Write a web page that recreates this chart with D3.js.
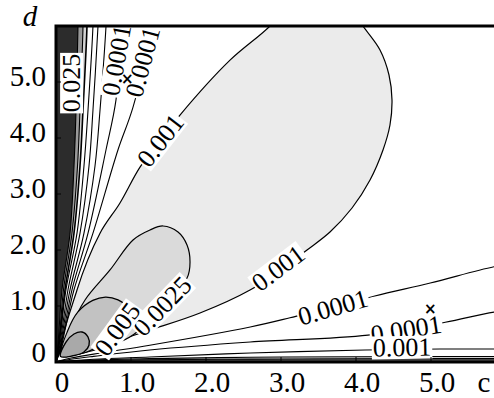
<!DOCTYPE html>
<html><head><meta charset="utf-8">
<script src="https://cdn.jsdelivr.net/npm/d3@7"></script>
<style>body{margin:0;background:#fff} text{font-family:"Liberation Serif","DejaVu Serif",serif;}</style>
</head><body><svg id="chart" width="494" height="398"></svg>
<script>
// ---------- data ----------
const xTickVals=[0,1,2,3,4,5];
const xTickLabels=["0","1.0","2.0","3.0","4.0","5.0"];
const yTickVals=[0,1,2,3,4,5];
const yTickLabels=["0","1.0","2.0","3.0","4.0","5.0"];
const xTitle="c", yTitle="d";

// contour lines, as [c, d] points
const leftEdge025=[[0.293,6.4],[0.293,6],[0.267,4.5],[0.24,3.5],[0.187,2.3],[0.08,1.29],[0.04,0.57],[0.02,0.21],[0.005,0.02]];
const leftEdge01=[[0.36,6.4],[0.36,6],[0.32,4.5],[0.287,3.5],[0.213,2.3],[0.1,1.29],[0.053,0.57],[0.024,0.21],[0.005,0.02]];
const leftLine005=[[0.413,6.4],[0.413,6],[0.36,4.5],[0.32,3.5],[0.24,2.3],[0.12,1.29],[0.06,0.57],[0.027,0.21],[0.005,0.02]];
const leftLine0025=[[0.5,6.4],[0.493,6],[0.427,4.5],[0.373,3.5],[0.28,2.3],[0.133,1.29],[0.067,0.57],[0.033,0.21],[0.005,0.02]];
const leftLine001=[[0.57,6.4],[0.56,6],[0.493,4.5],[0.44,3.5],[0.32,2.3],[0.16,1.29],[0.08,0.57],[0.04,0.21],[0.005,0.02]];
const leftLine0005=[[0.68,6.4],[0.667,6],[0.587,4.5],[0.52,3.5],[0.373,2.3],[0.187,1.29],[0.093,0.57],[0.047,0.21],[0.005,0.02]];
const left0001a=[[0.9,6.4],[0.88,6],[0.8,4.68],[0.667,3.79],[0.427,2.3],[0.213,1.29],[0.107,0.57],[0.053,0.21],[0.005,0.02]];
const left0001b=[[1.33,6.4],[1.28,6],[1.027,4.55],[0.827,3.79],[0.493,2.3],[0.24,1.29],[0.12,0.57],[0.06,0.21],[0.005,0.02]];

const bottom0001a=[[6.3,1.8],[5.84,1.7],[4.99,1.41],[4.25,1.18],[3.12,0.79],[2.59,0.625],[1.25,0.30],[0.59,0.16],[0.2,0.07],[0.01,0.01]];
const bottom0001b=[[6.3,0.95],[5.84,0.89],[5.19,0.71],[4.16,0.48],[2.59,0.357],[1.25,0.214],[0.5,0.1],[0.2,0.05],[0.01,0.01]];
const bottom001=[[6.3,0.232],[5.84,0.232],[5.12,0.232],[4.12,0.214],[2.59,0.16],[1.25,0.09],[0.5,0.05],[0.01,0.005]];
const bottom0025=[[6.3,0.1],[4.0,0.095],[2.59,0.085],[1.25,0.06],[0.5,0.035],[0.01,0.004]];
const bottomEdge01=[[6.3,0.06],[4.0,0.058],[2.59,0.052],[1.25,0.04],[0.5,0.025],[0.01,0.003]];

const lobe001=[[0.08,0.107],[0.28,1.286],[0.587,2.30],[0.853,2.84],[1.12,3.48],[1.387,3.95],[1.653,4.41],[2.32,5.39],[2.853,6.0],[3.1,6.4],[3.9,6.4],[4.093,6.0],[4.32,5.571],[4.44,5.125],[4.48,4.679],[4.453,4.232],[4.36,3.786],[4.187,3.25],[3.947,2.75],[3.653,2.321],[3.347,2.0],[2.987,1.643],[2.587,1.286],[1.92,0.875],[1.253,0.571],[0.72,0.339],[0.32,0.179]];
const lobe0025=[[0.093,0.143],[0.187,0.571],[0.387,1.107],[0.72,1.643],[1.027,2.179],[1.253,2.357],[1.427,2.429],[1.627,2.321],[1.747,2.089],[1.787,1.786],[1.747,1.5],[1.453,1.107],[1.08,0.536],[0.853,0.357],[0.52,0.214]];
const lobe005=[[0.07,0.14],[0.16,0.57],[0.29,0.89],[0.49,1.1],[0.66,1.16],[0.827,1.11],[0.95,0.98],[0.96,0.89],[0.72,0.46],[0.45,0.20],[0.2,0.12]];
const lobe01=[[0.06,0.1],[0.133,0.357],[0.24,0.5],[0.347,0.536],[0.427,0.446],[0.44,0.3],[0.373,0.179],[0.213,0.107]];

const labels=[
 {t:"0.025",c:0.2,d:4.98,a:-90},
 {t:"0.0001",c:0.8,d:5.39,a:-80},
 {t:"0.0001",c:1.15,d:5.36,a:-75},
 {t:"0.001",c:1.387,d:3.96,a:-52},
 {t:"0.001",c:2.96,d:1.68,a:-37},
 {t:"0.0025",c:1.413,d:1.0,a:-46},
 {t:"0.005",c:0.813,d:0.589,a:-54},
 {t:"0.0001",c:3.693,d:0.98,a:-16},
 {t:"0.0001",c:4.667,d:0.589,a:-9},
 {t:"0.001",c:4.613,d:0.268,a:-1}
];
const minima=[[0.95,5.05],[4.99,0.95]];

// ---------- drawing ----------
const svg=d3.select("#chart");
const x=d3.scaleLinear().domain([0,6]).range([56,506]);
const y=d3.scaleLinear().domain([0,6]).range([362,26]);
const font='"Liberation Serif","DejaVu Serif",serif';

svg.append("defs").append("clipPath").attr("id","clip")
  .append("rect").attr("x",x(0)).attr("y",y(6)).attr("width",x(6)-x(0)).attr("height",y(0)-y(6));
const g=svg.append("g").attr("clip-path","url(#clip)");

const line=d3.line().x(p=>x(p[0])).y(p=>y(p[1])).curve(d3.curveCatmullRom.alpha(0.5));
const closed=d3.line().x(p=>x(p[0])).y(p=>y(p[1])).curve(d3.curveCatmullRomClosed.alpha(0.5));
const linearPath=d3.line().x(p=>x(p[0])).y(p=>y(p[1])).curve(d3.curveLinear);
function bandPath(pts,head,tail){
  return "M"+linearPath(head).slice(1)+"L"+line(pts).slice(1)+"L"+linearPath(tail).slice(1)+"Z";
}
g.append("path").attr("d",bandPath(leftLine005,[[-0.2,-0.2],[-0.2,6.5]],[[-0.2,-0.2]])).attr("fill","#d4d4d4");
g.append("path").attr("d",bandPath(leftEdge01,[[-0.2,-0.2],[-0.2,6.5]],[[-0.2,-0.2]])).attr("fill","#9a9a9a");
g.append("path").attr("d",bandPath(leftEdge025,[[-0.2,-0.2],[-0.2,6.5]],[[-0.2,-0.2]])).attr("fill","#2c2c2c");
g.append("path").attr("d",bandPath(bottom0025,[[6.5,-0.2],[6.5,0.1]],[[-0.2,-0.2]])).attr("fill","#d0d0d0");
g.append("path").attr("d",bandPath(bottomEdge01,[[6.5,-0.2],[6.5,0.06]],[[-0.2,-0.2]])).attr("fill","#5a5a5a");

// lobes
g.append("path").attr("d",closed(lobe001)).attr("fill","#ebebeb").attr("stroke","#000").attr("stroke-width",1.2);
g.append("path").attr("d",closed(lobe0025)).attr("fill","#dadada").attr("stroke","#000").attr("stroke-width",1.2);
g.append("path").attr("d",closed(lobe005)).attr("fill","#c2c2c2").attr("stroke","#000").attr("stroke-width",1.2);
g.append("path").attr("d",closed(lobe01)).attr("fill","#a9a9a9").attr("stroke","#000").attr("stroke-width",1.4);

// contour lines
[leftEdge025,leftEdge01,leftLine005,leftLine0025,leftLine001,leftLine0005,left0001a,left0001b,
 bottom0001a,bottom0001b,bottom001,bottom0025,bottomEdge01].forEach((pts,i)=>{
  g.append("path").attr("d",line(pts)).attr("fill","none").attr("stroke","#000")
   .attr("stroke-width",(i===2)?1.6:1.1);
});

// contour labels
labels.forEach(l=>{
  const lg=g.append("g").attr("transform",`translate(${x(l.c)},${y(l.d)}) rotate(${l.a})`);
  const r=lg.append("rect").attr("fill","#fff");
  const t=lg.append("text").text(l.t).attr("text-anchor","middle").attr("dy","0.35em")
    .style("font-family",font).attr("font-size",26).attr("fill","#000");
  const b=t.node().getBBox();
  r.attr("x",b.x-1).attr("y",b.y+3).attr("width",b.width+2).attr("height",b.height-6);
});

// minima markers
minima.forEach(m=>{
  g.append("text").text("\u00d7").attr("x",x(m[0])).attr("y",y(m[1])).attr("dy","0.35em")
   .attr("text-anchor","middle").style("font-family",'"DejaVu Sans",sans-serif')
   .attr("font-weight","bold").attr("font-size",15).attr("fill","#000");
});

// frame
svg.append("path").attr("d",`M${x(6)+10},${y(6)}H${x(0)}V${y(0)}H${x(6)+10}`)
  .attr("fill","none").attr("stroke","#000").attr("stroke-width",3);

// ticks
xTickVals.forEach(v=>{
  svg.append("line").attr("x1",x(v)).attr("x2",x(v)).attr("y1",y(0)).attr("y2",y(0)-5).attr("stroke","#000").attr("stroke-width",1);
});
yTickVals.forEach(v=>{
  svg.append("line").attr("x1",x(0)).attr("x2",x(0)+5).attr("y1",y(v)).attr("y2",y(v)).attr("stroke","#000").attr("stroke-width",1);
});
xTickVals.forEach((v,i)=>{
  svg.append("text").text(xTickLabels[i]).attr("x",x(v)+6).attr("y",392)
   .attr("text-anchor","middle").style("font-family",font).attr("font-size",29).attr("fill","#000");
});
yTickVals.forEach((v,i)=>{
  svg.append("text").text(yTickLabels[i]).attr("x",46).attr("y",(v===0?y(v)-10:y(v)-6)).attr("dy","0.35em")
   .attr("text-anchor","end").style("font-family",font).attr("font-size",29).attr("fill","#000");
});
svg.append("text").text(yTitle).attr("x",30).attr("y",26).attr("text-anchor","middle")
  .style("font-family",font).attr("font-style","italic").attr("font-size",29).attr("fill","#000");
svg.append("text").text(xTitle).attr("x",484).attr("y",392).attr("text-anchor","middle")
  .style("font-family",font).attr("font-size",29).attr("fill","#000");
</script></body></html>
